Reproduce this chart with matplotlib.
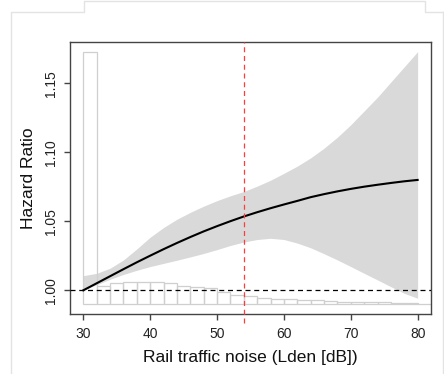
import matplotlib
matplotlib.use('Agg')
import matplotlib.pyplot as plt
from matplotlib.lines import Line2D
import numpy as np

plt.rcParams['font.family'] = ['Liberation Sans', 'DejaVu Sans']

# spline estimate (hazard ratio) with 95% CI
noise = [30, 32, 34, 36, 38, 40, 42, 44, 46, 48, 50, 52, 54,
         56, 58, 60, 62, 64, 66, 68, 70, 72, 74, 76, 78, 80]
hr = [1.0000, 1.0051, 1.0102, 1.0153, 1.0203, 1.0251, 1.0298, 1.0343, 1.0386,
      1.0427, 1.0465, 1.0501, 1.0535, 1.0566, 1.0595, 1.0622, 1.0648, 1.0675,
      1.0697, 1.0717, 1.0735, 1.0751, 1.0765, 1.0778, 1.0790, 1.0800]
hr_low = [1.0005, 1.0040, 1.0080, 1.0115, 1.0145, 1.0172, 1.0195, 1.0218, 1.0242,
          1.0267, 1.0295, 1.0325, 1.0350, 1.0368, 1.0377, 1.0368, 1.0342, 1.0308,
          1.0265, 1.0220, 1.0172, 1.0123, 1.0075, 1.0026, 0.9978, 0.9942]
hr_up = [1.0106, 1.0123, 1.0160, 1.0220, 1.0300, 1.0385, 1.0455, 1.0515, 1.0565,
         1.0610, 1.0650, 1.0685, 1.0716, 1.0755, 1.0798, 1.0848, 1.0900, 1.0960,
         1.1030, 1.1110, 1.1200, 1.1300, 1.1400, 1.1510, 1.1620, 1.1730]

# exposure distribution, drawn as a histogram in the hazard-ratio scale
hist_left = [30, 32, 34, 36, 38, 40, 42, 44, 46, 48, 50, 52, 54,
             56, 58, 60, 62, 64, 66, 68, 70, 72, 74, 76, 78, 80]
hist_top = [1.173, 1.0031, 1.0051, 1.0058, 1.0058, 1.0058, 1.0051, 1.0032, 1.0022,
            1.0015, 0.9988, 0.9968, 0.9960, 0.9946, 0.9939, 0.9935, 0.9933, 0.9929,
            0.9922, 0.9918, 0.9917, 0.9913, 0.9912, 0.9906, 0.9905, 0.9904]
hist_base = 0.9903

median_noise = 54

fig = plt.figure(figsize=(4.44, 3.74), dpi=100)
ax = fig.add_axes([70 / 444, 1 - 314 / 374, 361 / 444, 272 / 374])

ax.fill_between(noise, hr_low, hr_up, color='#d9d9d9', lw=0, zorder=1)
heights = np.array(hist_top) - hist_base
ax.bar(hist_left, heights, width=2, bottom=hist_base, align='edge',
       fill=False, edgecolor='#cfcfcf', linewidth=0.9, zorder=2)
ax.axhline(1.0, color='black', lw=0.9, ls=(0, (4, 3)), zorder=3)
ax.plot(noise, hr, color='black', lw=1.5, zorder=4)
ax.plot([median_noise, median_noise], [0.9763, 1.180], color='#ff3b3b',
        lw=0.9, ls=(0, (4, 3)), clip_on=False, zorder=5)

ax.set_xlim(28, 82)
ax.set_ylim(0.9828, 1.180)
ax.set_xticks([30, 40, 50, 60, 70, 80])
ax.set_yticks([1.00, 1.05, 1.10, 1.15])
ax.set_yticklabels(['1.00', '1.05', '1.10', '1.15'])
for s in ax.spines.values():
    s.set_color('#444444')
    s.set_linewidth(1.0)
ax.tick_params(direction='out', length=4.5, width=1, colors='#444444',
               labelcolor='#222222', labelsize=10)
ax.tick_params(axis='x', pad=5)
ax.tick_params(axis='y', pad=4)
plt.setp(ax.get_yticklabels(), rotation=90, va='center')

ax.set_xlabel('Rail traffic noise (Lden [dB])', fontsize=12.5, color='#111111', labelpad=6)
ax.set_ylabel('Hazard Ratio', fontsize=12.5, color='#111111', labelpad=6)

# light screenshot frame
def fx(x):
    return x / 444

def fy(y):
    return 1 - y / 374

frame = '#e3e3e3'
fig.add_artist(Line2D([fx(10.7), fx(10.7), fx(84.3), fx(84.3), fx(425), fx(425), fx(444)],
                      [fy(374), fy(11.7), fy(11.7), fy(1), fy(1), fy(11.7), fy(11.7)],
                      color=frame, lw=1))
fig.add_artist(Line2D([fx(443), fx(443)], [fy(11.7), fy(374)], color=frame, lw=1))

fig.savefig('out.png', dpi=100)
